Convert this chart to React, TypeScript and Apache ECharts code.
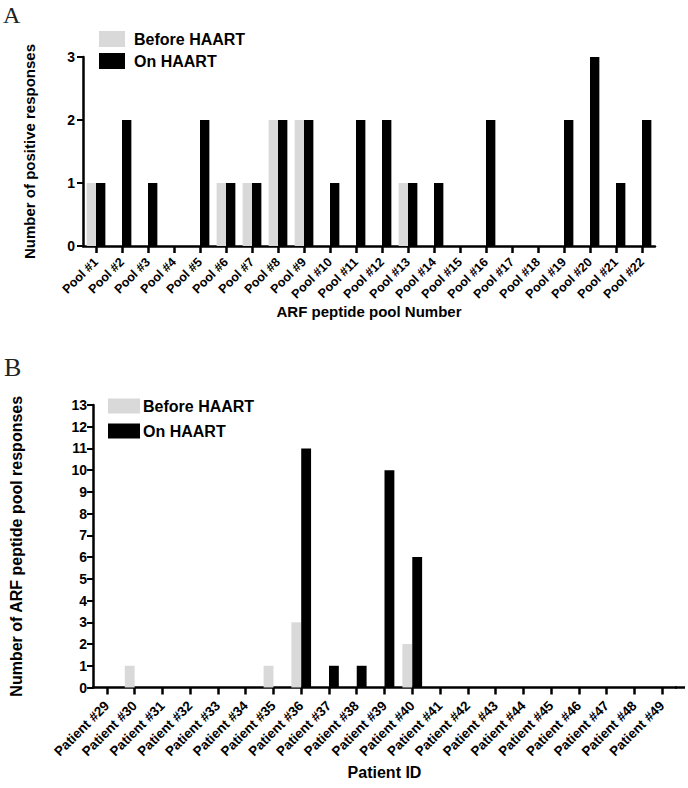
import React, { useEffect, useRef } from "react";
import * as echarts from "echarts";

const poolCategories = [
  "Pool #1", "Pool #2", "Pool #3", "Pool #4", "Pool #5", "Pool #6", "Pool #7", "Pool #8",
  "Pool #9", "Pool #10", "Pool #11", "Pool #12", "Pool #13", "Pool #14", "Pool #15", "Pool #16",
  "Pool #17", "Pool #18", "Pool #19", "Pool #20", "Pool #21", "Pool #22",
];
const poolBefore = [1, 0, 0, 0, 0, 1, 1, 2, 2, 0, 0, 0, 1, 0, 0, 0, 0, 0, 0, 0, 0, 0];
const poolOn = [1, 2, 1, 0, 2, 1, 1, 2, 2, 1, 2, 2, 1, 1, 0, 2, 0, 0, 2, 3, 1, 2];
const poolYMax = 3;

const patientCategories = [
  "Patient #29", "Patient #30", "Patient #31", "Patient #32", "Patient #33", "Patient #34",
  "Patient #35", "Patient #36", "Patient #37", "Patient #38", "Patient #39", "Patient #40",
  "Patient #41", "Patient #42", "Patient #43", "Patient #44", "Patient #45", "Patient #46",
  "Patient #47", "Patient #48", "Patient #49",
];
const patientBefore = [0, 1, 0, 0, 0, 0, 1, 3, 0, 0, 0, 2, 0, 0, 0, 0, 0, 0, 0, 0, 0];
const patientOn = [0, 0, 0, 0, 0, 0, 0, 11, 1, 1, 10, 6, 0, 0, 0, 0, 0, 0, 0, 0, 0];
const patientYMax = 13;

const seriesNames = ["Before HAART", "On HAART"];

const FONT = "'Liberation Sans', Arial, Helvetica, sans-serif";
const SERIF = "'Liberation Serif', 'Times New Roman', serif";
const GRAY = "#d9d9d9";
const BLACK = "#000000";

export default function App() {
  const ref = useRef<HTMLDivElement | null>(null);

  useEffect(() => {
    if (!ref.current) return;
    const chart = echarts.init(ref.current, undefined, { renderer: "svg" });

    const axisLine = { show: true, lineStyle: { color: BLACK, width: 2.5 } };
    const labelStyle = { color: BLACK, fontFamily: FONT, fontWeight: "bold" as const };

    const xAxisCommon = (
      data: string[], name: string, nameGap: number, nameSize: number, labelSize: number, margin: number,
    ) => ({
      type: "category" as const,
      data,
      name,
      nameLocation: "middle" as const,
      nameGap,
      nameMoveOverlap: false,
      nameTextStyle: { color: BLACK, fontFamily: FONT, fontWeight: "bold" as const, fontSize: nameSize },
      axisLine,
      axisTick: { show: true, alignWithLabel: true, length: 7, lineStyle: { color: BLACK, width: 2.5 } },
      axisLabel: { ...labelStyle, fontSize: labelSize, rotate: 45, margin, interval: 0 },
      splitLine: { show: false },
    });

    const yAxisCommon = (max: number, name: string, nameGap: number, nameSize: number, margin: number) => ({
      type: "value" as const,
      min: 0,
      max,
      interval: 1,
      name,
      nameLocation: "middle" as const,
      nameGap,
      nameMoveOverlap: false,
      nameTextStyle: { color: BLACK, fontFamily: FONT, fontWeight: "bold" as const, fontSize: nameSize },
      axisLine,
      axisTick: { show: true, length: 6, lineStyle: { color: BLACK, width: 2 } },
      axisLabel: { ...labelStyle, fontSize: 14, margin },
      splitLine: { show: false },
    });

    const legendCommon = {
      orient: "vertical" as const,
      padding: 0,
      icon: "rect",
      data: seriesNames,
      selectedMode: false,
    };
    const legendText = (pad: number) => ({
      color: BLACK, fontFamily: FONT, fontWeight: "bold" as const, fontSize: 16, padding: [0, 0, 0, pad],
    });

    chart.setOption({
      animation: false,
      backgroundColor: "#ffffff",
      grid: [
        { left: 83, top: 57, width: 572, height: 189, containLabel: false },
        { left: 85, top: 405, width: 591, height: 282.5, containLabel: false },
      ],
      legend: [
        { ...legendCommon, left: 99, top: 31, itemWidth: 26, itemHeight: 16, itemGap: 6, textStyle: legendText(4) },
        { ...legendCommon, left: 108, top: 398, itemWidth: 32, itemHeight: 15, itemGap: 9, textStyle: legendText(-2) },
      ],
      xAxis: [
        { ...xAxisCommon(poolCategories, "ARF peptide pool Number", 58, 15, 12.5, 14), gridIndex: 0 },
        { ...xAxisCommon(patientCategories, "Patient ID", 77, 16, 13.5, 16), gridIndex: 1 },
      ],
      yAxis: [
        { ...yAxisCommon(poolYMax, "Number of positive responses", 46, 15, 8), gridIndex: 0 },
        { ...yAxisCommon(patientYMax, "Number of ARF peptide pool responses", 69, 16, 6), gridIndex: 1 },
      ],
      series: [
        {
          name: seriesNames[0], type: "bar", xAxisIndex: 0, yAxisIndex: 0, data: poolBefore,
          itemStyle: { color: GRAY }, barGap: "0%", barCategoryGap: "28%",
        },
        {
          name: seriesNames[1], type: "bar", xAxisIndex: 0, yAxisIndex: 0, data: poolOn,
          itemStyle: { color: BLACK }, barGap: "0%", barCategoryGap: "28%",
        },
        {
          name: seriesNames[0], type: "bar", xAxisIndex: 1, yAxisIndex: 1, data: patientBefore,
          itemStyle: { color: GRAY }, barGap: "0%", barCategoryGap: "29%",
        },
        {
          name: seriesNames[1], type: "bar", xAxisIndex: 1, yAxisIndex: 1, data: patientOn,
          itemStyle: { color: BLACK }, barGap: "0%", barCategoryGap: "29%",
        },
      ],
      graphic: [
        {
          type: "text", left: 3, top: 3,
          style: { text: "A", fontFamily: SERIF, fontSize: 24, fill: "#222" },
        },
        {
          type: "text", left: 4, top: 354,
          style: { text: "B", fontFamily: SERIF, fontSize: 26, fill: "#222" },
        },
        {
          type: "line",
          shape: { x1: 675, y1: 687.5, x2: 685, y2: 687.5 },
          style: { stroke: BLACK, lineWidth: 2.5 },
        },
      ],
    });

    return () => chart.dispose();
  }, []);

  return (
    <div
      ref={ref}
      style={{ position: "fixed", left: 0, top: 0, width: 688, height: 788, background: "#fff" }}
    />
  );
}
